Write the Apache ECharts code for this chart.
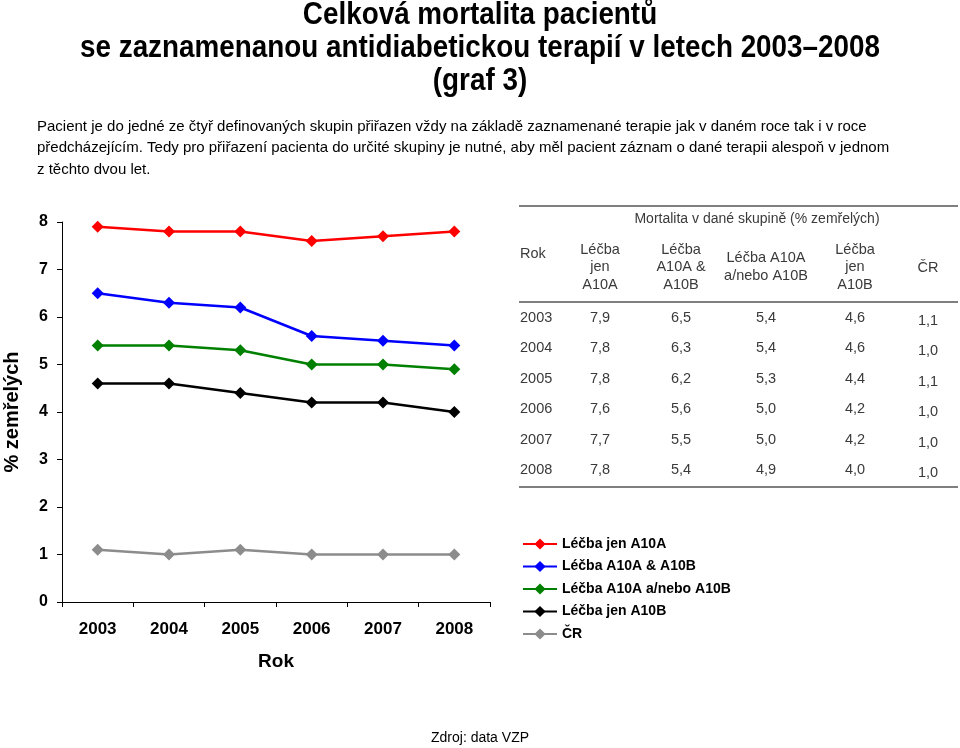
<!DOCTYPE html>
<html><head><meta charset="utf-8">
<script src="https://cdn.jsdelivr.net/npm/echarts@6/dist/echarts.min.js"></script>
<style>html,body{margin:0;padding:0;background:#fff}#c{width:960px;height:748px}</style>
</head><body><div id="c"></div>
<script>
const years = ['2003','2004','2005','2006','2007','2008'];
const seriesNames = ['Léčba jen A10A','Léčba A10A & A10B','Léčba A10A a/nebo A10B','Léčba jen A10B','ČR'];
const jenA10A = [7.9,7.8,7.8,7.6,7.7,7.8];
const a10aAndB = [6.5,6.3,6.2,5.6,5.5,5.4];
const a10aOrB = [5.4,5.4,5.3,5.0,5.0,4.9];
const jenA10B = [4.6,4.6,4.4,4.2,4.2,4.0];
const cr = [1.1,1.0,1.1,1.0,1.0,1.0];
const yTicks = [0,1,2,3,4,5,6,7,8];
const colors = ['#ff0000','#0000ff','#008000','#000000','#8c8c8c'];
const tableHeaders = ['Rok','Léčba\njen\nA10A','Léčba\nA10A &\nA10B','Léčba A10A\na/nebo A10B','Léčba\njen\nA10B','ČR'];
const allSeries = [jenA10A,a10aAndB,a10aOrB,jenA10B,cr];

const chart = echarts.init(document.getElementById('c'));
const F = 'Liberation Sans, Arial, sans-serif';
const graphics = [];
graphics.push({type:'text',x:480,y:-1,scaleX:0.87,style:{text:'Celková mortalita pacientů\nse zaznamenanou antidiabetickou terapií v letech 2003–2008\n(graf 3)',font:'bold 32px "Liberation Sans Narrow", "Arial Narrow", Liberation Sans, sans-serif',fill:'#000',textAlign:'center',lineHeight:33}});
graphics.push({type:'text',left:37,top:116,style:{text:'Pacient je do jedné ze čtyř definovaných skupin přiřazen vždy na základě zaznamenané terapie jak v daném roce tak i v roce\npředcházejícím. Tedy pro přiřazení pacienta do určité skupiny je nutné, aby měl pacient záznam o dané terapii alespoň v jednom\nz těchto dvou let.',font:'15px '+F,fill:'#000',lineHeight:21.5}});
// table
const tc = '#3a3a3a';
graphics.push({type:'line',shape:{x1:519,y1:206,x2:958,y2:206},style:{stroke:'#555',lineWidth:1.5}});
graphics.push({type:'line',shape:{x1:519,y1:302,x2:958,y2:302},style:{stroke:'#555',lineWidth:1.5}});
graphics.push({type:'line',shape:{x1:519,y1:487,x2:958,y2:487},style:{stroke:'#555',lineWidth:1.5}});
graphics.push({type:'text',x:757,y:219,style:{text:'Mortalita v dané skupině (% zemřelých)',font:'14px '+F,fill:tc,textAlign:'center',textVerticalAlign:'middle'}});
const colX = [520,600,681,766,855,928];
const hdrY = [254,267,267,267,267,268];
tableHeaders.forEach((h,i)=>{
  graphics.push({type:'text',x:colX[i],y:hdrY[i],style:{text:h,font:'14.5px '+F,fill:tc,textAlign:i===0?'left':'center',textVerticalAlign:'middle',lineHeight:17.5}});
});
const rowY = [318,348,379,409,440,470];
years.forEach((yr,r)=>{
  graphics.push({type:'text',x:colX[0],y:rowY[r],style:{text:yr,font:'14.5px '+F,fill:tc,textAlign:'left',textVerticalAlign:'middle'}});
  allSeries.forEach((s,c)=>{
    graphics.push({type:'text',x:colX[c+1],y:rowY[r]+(c===4?3:0),style:{text:s[r].toFixed(1).replace('.',','),font:'14.5px '+F,fill:tc,textAlign:'center',textVerticalAlign:'middle'}});
  });
});
graphics.push({type:'text',x:480,y:738,style:{text:'Zdroj: data VZP',font:'14px '+F,fill:'#000',textAlign:'center',textVerticalAlign:'middle'}});

chart.setOption({
  animation:false,
  backgroundColor:'#fff',
  color:colors,
  grid:{left:62,right:470,top:222,bottom:146,containLabel:false},
  xAxis:{type:'category',data:years,boundaryGap:true,
    axisLine:{lineStyle:{color:'#000',width:1}},
    axisTick:{show:true,length:5,lineStyle:{color:'#000'}},
    axisLabel:{fontFamily:F,fontWeight:'bold',fontSize:17,color:'#000',margin:19},
    name:'Rok',nameLocation:'middle',nameGap:50,nameTextStyle:{fontFamily:F,fontWeight:'bold',fontSize:19,color:'#000'}},
  yAxis:{type:'value',min:yTicks[0],max:yTicks[yTicks.length-1],interval:1,
    splitLine:{show:false},
    axisLine:{show:true,lineStyle:{color:'#000',width:1}},
    axisTick:{show:true,length:5,lineStyle:{color:'#000'}},
    axisLabel:{fontFamily:F,fontWeight:'bold',fontSize:16,color:'#000',margin:14},
    name:'% zemřelých',nameLocation:'middle',nameGap:40,nameTextStyle:{fontFamily:F,fontWeight:'bold',fontSize:20,color:'#000'}},
  legend:{orient:'vertical',left:517,top:532,itemWidth:34,itemHeight:14,itemGap:8.5,
    textStyle:{fontFamily:F,fontWeight:'bold',fontSize:14,color:'#000'},
    data:seriesNames},
  graphic:graphics,
  series:allSeries.map((d,i)=>({name:seriesNames[i],type:'line',data:d,symbol:'diamond',symbolSize:12,
    lineStyle:{width:2.5,color:colors[i]},itemStyle:{color:colors[i]}}))
});
</script></body></html>
